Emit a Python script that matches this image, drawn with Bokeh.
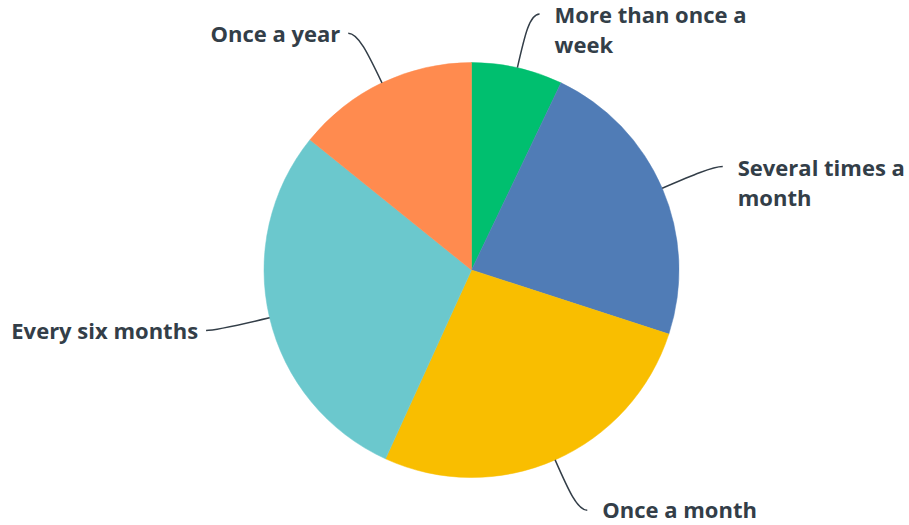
import math
from bokeh.plotting import figure
from bokeh.embed import file_html
from bokeh.resources import INLINE
from bokeh.core.properties import value

# ---- data ----
categories = ["More than once a\nweek", "Several times a\nmonth", "Once a month",
              "Every six months", "Once a year"]
shares = [7.1, 22.9, 26.8, 29.0, 14.2]
colors = ["#00BF6F", "#507CB6", "#F9BE00", "#6BC8CD", "#FF8B4F"]

# ---- layout ----
W, H = 909, 525
CX, CY, R = 471, H - 269.5, 207.5
LEAD, TAIL = 55, 10
FONT_SIZE = 22
LINE_GAP = 30

p = figure(width=W, height=H, x_range=(0, W), y_range=(0, H),
           output_backend="svg", toolbar_location=None, min_border=0)
p.axis.visible = False
p.grid.visible = False
p.outline_line_color = None
p.background_fill_color = "white"
p.border_fill_color = "white"

total = sum(shares)
starts, ends = [], []
acc = 0.0
for s in shares:
    t0 = acc / total * 2 * math.pi
    acc += s
    t1 = acc / total * 2 * math.pi
    starts.append(t0)
    ends.append(t1)

# wedges (theta measured clockwise from 12 o'clock)
p.wedge(x=[CX] * len(shares), y=[CY] * len(shares), radius=R,
        start_angle=[math.pi / 2 - e for e in ends],
        end_angle=[math.pi / 2 - s for s in starts],
        direction="anticlock", fill_color=colors, line_color=colors,
        line_width=0.5)

# leader lines and labels
bx0, by0, bx1, by1, bcx0, bcy0, bcx1, bcy1 = [], [], [], [], [], [], [], []
tx, ty, tt, ta = [], [], [], []
for lab, t0, t1 in zip(categories, starts, ends):
    mid = (t0 + t1) / 2
    dx, dy = math.sin(mid), math.cos(mid)
    ex, ey = CX + R * dx, CY + R * dy
    elx, ely = ex + LEAD * dx, ey + LEAD * dy
    side = 1 if dx > 0 else -1
    endx, endy = elx + side * TAIL, ely
    bx0.append(ex); by0.append(ey); bx1.append(endx); by1.append(endy)
    bcx0.append(ex + LEAD * 0.6 * dx); bcy0.append(ey + LEAD * 0.6 * dy)
    bcx1.append(elx); bcy1.append(ely)
    gap = 15 if side > 0 else 8
    for i, line in enumerate(lab.split("\n")):
        tx.append(endx + side * gap)
        ty.append(endy + (1 if dy < -0.8 else 0) - i * LINE_GAP)
        tt.append(line)
        ta.append("left" if side > 0 else "right")

p.bezier(x0=bx0, y0=by0, x1=bx1, y1=by1, cx0=bcx0, cy0=bcy0, cx1=bcx1, cy1=bcy1,
         line_color="#333E48", line_width=1.5)

p.text(x=tx, y=ty, text=tt, text_align=ta, text_baseline="middle",
       text_font=value("Open Sans"), text_font_style="bold",
       text_font_size=f"{FONT_SIZE}px", text_color="#333E48")

open("out.html", "w").write(file_html(p, INLINE))
